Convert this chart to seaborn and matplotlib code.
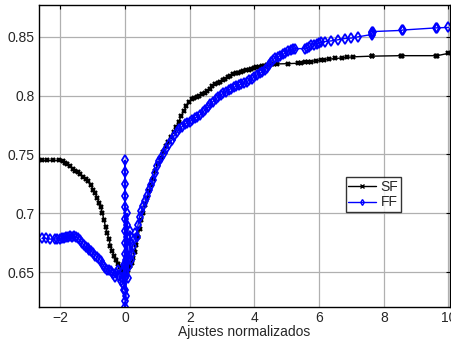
import pandas as pd
import seaborn as sns
import matplotlib
matplotlib.use("Agg")
import matplotlib.pyplot as plt

# SF curve (black)
sf_x = [-2.57, -2.40, -2.22, -2.05, -1.92, -1.85, -1.78, -1.70, -1.62, -1.54,
        -1.46, -1.38, -1.30, -1.22, -1.14, -1.06, -0.98, -0.92, -0.86, -0.80,
        -0.75, -0.70, -0.65, -0.60, -0.55, -0.50, -0.45, -0.40, -0.34, -0.28,
        -0.22, -0.16, -0.10, -0.05, 0.00, 0.05, 0.10, 0.15, 0.20, 0.25,
        0.30, 0.35, 0.40, 0.45, 0.50, 0.56, 0.62, 0.68, 0.74, 0.80,
        0.87, 0.94, 1.02, 1.10, 1.18, 1.26, 1.34, 1.42, 1.50, 1.58,
        1.66, 1.74, 1.82, 1.90, 1.98, 2.06, 2.14, 2.22, 2.30, 2.38,
        2.46, 2.54, 2.62, 2.70, 2.78, 2.86, 2.94, 3.02, 3.10, 3.18,
        3.26, 3.34, 3.42, 3.50, 3.58, 3.66, 3.74, 3.82, 3.90, 3.98,
        4.06, 4.14, 4.22, 4.30, 4.38, 4.46, 4.54, 4.62, 4.70, 5.05,
        5.35, 5.45, 5.55, 5.65, 5.75, 5.90, 6.05, 6.15, 6.30, 6.50,
        6.70, 6.85, 7.05, 7.62, 7.65, 8.52, 8.57, 9.62, 9.65, 10.0]
sf_y = [0.745, 0.745, 0.745, 0.745, 0.7445, 0.743, 0.7415, 0.740, 0.738, 0.736,
        0.735, 0.733, 0.731, 0.729, 0.727, 0.724, 0.720, 0.717, 0.713, 0.709,
        0.705, 0.700, 0.694, 0.688, 0.683, 0.678, 0.672, 0.668, 0.664, 0.660,
        0.657, 0.654, 0.651, 0.649, 0.648, 0.650, 0.652, 0.655, 0.658, 0.662,
        0.667, 0.673, 0.680, 0.687, 0.694, 0.700, 0.707, 0.713, 0.719, 0.724,
        0.729, 0.736, 0.742, 0.747, 0.752, 0.757, 0.761, 0.765, 0.769, 0.773,
        0.778, 0.783, 0.787, 0.791, 0.7945, 0.797, 0.798, 0.799, 0.800, 0.8015,
        0.8025, 0.804, 0.806, 0.808, 0.810, 0.811, 0.812, 0.813, 0.8145, 0.8155,
        0.817, 0.818, 0.819, 0.8195, 0.820, 0.821, 0.8215, 0.822, 0.823, 0.8235,
        0.824, 0.8245, 0.825, 0.8255, 0.826, 0.826, 0.8265, 0.827, 0.827, 0.8272,
        0.8276, 0.828, 0.8285, 0.829, 0.829, 0.8296, 0.830, 0.8305, 0.831, 0.8316,
        0.832, 0.8325, 0.833, 0.8336, 0.8336, 0.834, 0.834, 0.834, 0.834, 0.836]

# FF curve (blue)
ff_x = [-2.57, -2.45, -2.32, -2.18, -2.10, -2.02, -1.95, -1.88, -1.82, -1.76,
        -1.70, -1.64, -1.58, -1.52, -1.46, -1.40, -1.34, -1.28, -1.22, -1.16,
        -1.10, -1.04, -0.98, -0.92, -0.86, -0.80, -0.74, -0.68, -0.62, -0.56,
        -0.50, -0.44, -0.38, -0.32, -0.27, -0.22, -0.18, -0.14, -0.10, -0.07,
        -0.04, -0.02, 0.00, 0.00, 0.01, 0.00, 0.01, 0.00, 0.01, 0.00,
        0.01, 0.00, 0.01, 0.00, 0.01, 0.00, 0.03, 0.04, 0.05, 0.06,
        0.07, 0.08, 0.09, 0.11, 0.13, 0.15, 0.17, 0.19, 0.21, 0.24,
        0.28, 0.32, 0.36, 0.40, 0.45,
        0.50, 0.56, 0.62, 0.68, 0.74, 0.80, 0.87, 0.94, 1.00, 1.06,
        1.12, 1.20, 1.28, 1.36, 1.44, 1.52, 1.60, 1.68, 1.76, 1.84,
        1.92, 2.00, 2.08, 2.16, 2.24, 2.32, 2.40, 2.48, 2.56, 2.64,
        2.72, 2.80, 2.88, 2.96, 3.04, 3.12, 3.20, 3.28, 3.36, 3.44,
        3.52, 3.60, 3.68, 3.76, 3.84, 3.92, 4.00, 4.08, 4.16, 4.24,
        4.32, 4.38, 4.44, 4.50, 4.56, 4.64, 4.72, 4.80, 4.88, 4.96,
        5.04, 5.12, 5.20, 5.25, 5.55, 5.62, 5.70, 5.76, 5.84, 5.92,
        6.00, 6.06, 6.18, 6.38, 6.58, 6.80, 7.00, 7.20, 7.62, 7.64,
        7.65, 7.66, 8.55, 8.58, 9.62, 9.65, 10.0]
ff_y = [0.6786, 0.6786, 0.678, 0.678, 0.6783, 0.678, 0.679, 0.6786, 0.6795, 0.680,
        0.6805, 0.680, 0.681, 0.680, 0.679, 0.677, 0.675, 0.673, 0.671, 0.670,
        0.669, 0.668, 0.666, 0.664, 0.663, 0.661, 0.659, 0.656, 0.653, 0.652,
        0.652, 0.651, 0.648, 0.646, 0.649, 0.652, 0.647, 0.642, 0.650, 0.640,
        0.656, 0.635, 0.745, 0.735, 0.725, 0.715, 0.705, 0.695, 0.685, 0.675,
        0.665, 0.655, 0.645, 0.635, 0.625, 0.620, 0.630, 0.660, 0.690, 0.700,
        0.680, 0.660, 0.645, 0.655, 0.670, 0.685, 0.675, 0.660, 0.665, 0.672,
        0.678, 0.683, 0.680, 0.690, 0.697,
        0.702, 0.706, 0.710, 0.715, 0.720, 0.724, 0.728, 0.734, 0.740, 0.744,
        0.747, 0.751, 0.755, 0.759, 0.762, 0.766, 0.769, 0.7715, 0.7735, 0.7755,
        0.777, 0.778, 0.7795, 0.781, 0.782, 0.7835, 0.786, 0.788, 0.790, 0.7925,
        0.795, 0.797, 0.799, 0.8005, 0.802, 0.8035, 0.805, 0.806, 0.807, 0.808,
        0.809, 0.810, 0.811, 0.812, 0.813, 0.8145, 0.816, 0.8175, 0.819, 0.820,
        0.8215, 0.8235, 0.826, 0.8285, 0.8305, 0.832, 0.833, 0.834, 0.835, 0.8365,
        0.838, 0.839, 0.8395, 0.840, 0.840, 0.8405, 0.8415, 0.843, 0.8435, 0.844,
        0.845, 0.8455, 0.846, 0.8466, 0.8475, 0.8486, 0.849, 0.850, 0.852, 0.853,
        0.854, 0.8545, 0.8555, 0.8558, 0.8577, 0.8577, 0.858]

x_ticks = [-2, 0, 2, 4, 6, 8, 10]
y_ticks = [0.65, 0.7, 0.75, 0.8, 0.85]
y_labels = ["0.65", "0.7", "0.75", "0.8", "0.85"]

sf = pd.DataFrame({"x": sf_x, "y": sf_y})
ff = pd.DataFrame({"x": ff_x, "y": ff_y})

sns.set_style("whitegrid")
plt.rcParams['font.family'] = ['Liberation Sans', 'DejaVu Sans']

fig = plt.figure(figsize=(4.51, 3.41), dpi=100)
ax = fig.add_axes([0.0865, 0.1006, 0.9115, 0.8844])

sns.lineplot(data=sf, x="x", y="y", ax=ax, color="black", lw=1.0,
             marker="x", markersize=3.5, markeredgewidth=1.7,
             markeredgecolor="black",
             estimator=None, sort=False, label="SF")
sns.lineplot(data=ff, x="x", y="y", ax=ax, color="blue", lw=1.0,
             marker="d", markersize=5, markerfacecolor="none",
             markeredgecolor="blue", markeredgewidth=1.3,
             estimator=None, sort=False, label="FF")

ax.set_xlim(-2.66, 10.05)
ax.set_ylim(0.6205, 0.877)
ax.set_xticks(x_ticks)
ax.set_yticks(y_ticks)
ax.set_yticklabels(y_labels)
ax.set_xlabel("Ajustes normalizados", fontsize=10, labelpad=0)
ax.set_ylabel("")
ax.grid(True, color="#b0b0b0", lw=0.9)
ax.tick_params(direction="in", length=3, top=True, right=True,
               labelsize=10, color="black", pad=3)
for s in ax.spines.values():
    s.set_color("black")
    s.set_linewidth(1.0)

leg = ax.legend(loc="upper left", bbox_to_anchor=(0.746, 0.429), fontsize=10,
                frameon=True, fancybox=False, handlelength=2.0,
                borderpad=0.2, labelspacing=0.1, handletextpad=0.3,
                borderaxespad=0)
leg.get_frame().set_edgecolor("black")
leg.get_frame().set_linewidth(1.0)
for h in leg.legend_handles:
    h.set_markersize(3)
    h.set_markeredgewidth(1.0)

fig.savefig("out.png", dpi=100)
